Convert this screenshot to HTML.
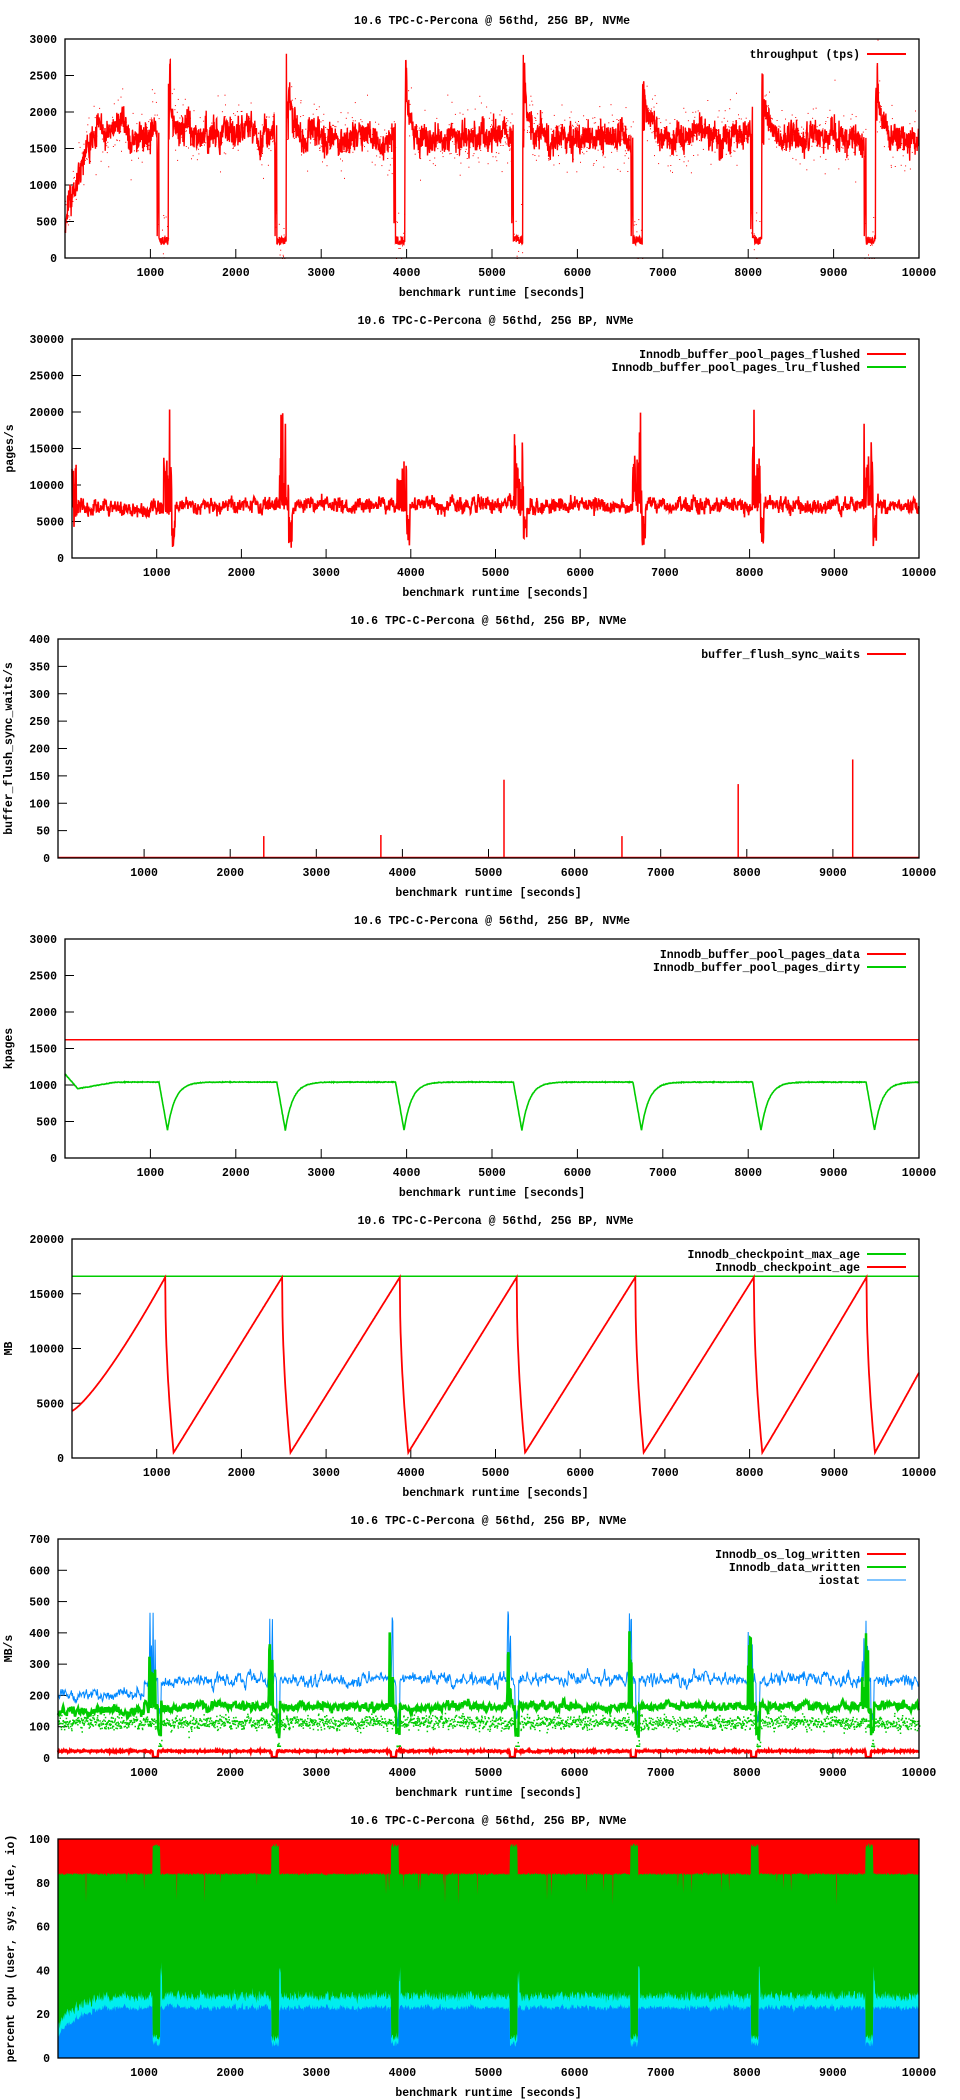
<!DOCTYPE html>
<html><head><meta charset="utf-8"><style>
html,body{margin:0;padding:0;background:#fff;width:960px;height:2100px;overflow:hidden}
svg{display:block}
text{font-family:"Liberation Mono",monospace;font-weight:bold;font-size:11.5px;fill:#000}
</style></head><body>
<svg id="s" width="960" height="2100" xmlns="http://www.w3.org/2000/svg"></svg>
<script>
var seed=12345;function R(){seed|=0;seed=seed+0x6D2B79F5|0;var t=Math.imul(seed^seed>>>15,1|seed);t=t+Math.imul(t^t>>>7,61|t)^t;return((t^t>>>14)>>>0)/4294967296;}
function G(){return (R()+R()+R()-1.5)*0.8;}
var E=[1100,2480,3870,5250,6650,8050,9380];
function ev(t){for(var i=0;i<E.length;i++){var d=t-E[i];if(d>-300&&d<400)return d;}return null;}
var out='';var RIGHT=919;
function chart(k,L,ymax,step,ylabel,ylx){
 var oy=300*k,T=oy+39,B=oy+258;
 var X=function(t){return L+t/10000*(RIGHT-L)},Y=function(v){return B-v/ymax*(B-T)};
 var o='';
 o+='<text x="'+((L+RIGHT)/2)+'" y="'+(oy+24)+'" text-anchor="middle">10.6 TPC-C-Percona @ 56thd, 25G BP, NVMe</text>';
 for(var v=0;v<=ymax+1e-9;v+=step){var y=Y(v);o+='<text x="'+(L-8)+'" y="'+(y+4)+'" text-anchor="end">'+v+'</text>';if(v>0&&v<ymax)o+='<line x1="'+L+'" y1="'+y+'" x2="'+(L+9)+'" y2="'+y+'" stroke="#000"/>';}
 for(var t=1000;t<=10000;t+=1000){var x=X(t);o+='<text x="'+x+'" y="'+(B+18)+'" text-anchor="middle">'+t+'</text>';if(t<10000)o+='<line x1="'+x+'" y1="'+B+'" x2="'+x+'" y2="'+(B-9)+'" stroke="#000"/>';}
 o+='<text x="'+((L+RIGHT)/2)+'" y="'+(oy+296)+'" text-anchor="middle">benchmark runtime [seconds]</text>';
 if(ylabel)o+='<text transform="translate('+ylx+','+((T+B)/2)+') rotate(-90)" text-anchor="middle">'+ylabel+'</text>';
 return {X:X,Y:Y,T:T,B:B,L:L,frame:'<rect x="'+L+'" y="'+T+'" width="'+(RIGHT-L)+'" height="'+(B-T)+'" fill="none" stroke="#000" stroke-width="1.3"/>',o:o};
}
function legend(c,items){var s='';items.forEach(function(it,i){var y=c.T+15+i*13;s+='<text x="860" y="'+(y+4)+'" text-anchor="end">'+it[0]+'</text><line x1="867" y1="'+y+'" x2="906" y2="'+y+'" stroke="'+it[1]+'" stroke-width="'+it[2]+'"/>';});return s;}
function pl(pts,col,w){return '<polyline fill="none" stroke="'+col+'" stroke-width="'+w+'" points="'+pts.join(' ')+'"/>';}
function P(x,y){return x.toFixed(1)+','+y.toFixed(1);}
var cl=function(v,a,b){return Math.max(a,Math.min(b,v))};
// chart 1
(function(){var c=chart(0,65,3000,500,null);var p=[],dots='';var lv=0;
 for(var t=0;t<=10000;t+=3){var d=ev(t),v;
  if(t<400)v=300+1550*Math.pow(t/400,0.7);else if(t<1000)v=1850-300*(t-400)/600;else v=1680;
  lv=lv*0.93+G()*80;v+=lv+G()*220;
  if(d!==null){if(d>=-20&&d<0)v=v*(1+d/20)+300;else if(d>=0&&d<110)v=180+R()*120;else if(d>=110&&d<135)v=1500+R()*1400;else if(d>=135&&d<260)v+=500*Math.exp(-(d-135)/50);}
  v=cl(v,0,2990);p.push(P(c.X(t),c.Y(v)));
  if(R()<0.35){var dv=v+G()*500;dots+='<rect x="'+c.X(t+R()*3).toFixed(1)+'" y="'+c.Y(cl(dv,0,3000)).toFixed(1)+'" width="1" height="1" fill="#f00"/>';}}
 out+=c.o+pl(p,'#f00',1.4)+dots+legend(c,[['throughput (tps)','#f00',2]])+c.frame;})();
// chart 2
(function(){var c=chart(1,72,30000,5000,'pages/s',13);var p=[];var lv=0;
 for(var t=0;t<=10000;t+=4){var d=ev(t),v=7200+(t<1000?-400:0);lv=lv*0.85+G()*500;v+=lv+G()*1100;
  if(d!==null){if(d>=-30&&d<80&&R()<0.5)v=9000+R()*(R()<0.2?12000:5000);else if(d>=80&&d<120)v=1000+R()*5000;}
  if(t<60)v=4000+R()*10000;v=cl(v,0,29999);p.push(P(c.X(t),c.Y(v)));}
 out+=c.o+pl(p,'#f00',1.6)+legend(c,[['Innodb_buffer_pool_pages_flushed','#f00',2],['Innodb_buffer_pool_pages_lru_flushed','#0c0',2]])+c.frame;})();
// chart 3
(function(){var c=chart(2,58,400,50,'buffer_flush_sync_waits/s',12);var s='';
 [[2390,40],[3750,42],[5180,143],[6550,40],[7900,135],[9230,180]].forEach(function(a){var x=c.X(a[0]);s+='<line x1="'+x+'" y1="'+c.B+'" x2="'+x+'" y2="'+c.Y(a[1])+'" stroke="#f00" stroke-width="1.5"/>';});
 s+='<line x1="'+c.L+'" y1="'+(c.B-0.5)+'" x2="'+RIGHT+'" y2="'+(c.B-0.5)+'" stroke="#f00" stroke-width="1.5"/>';
 out+=c.o+s+legend(c,[['buffer_flush_sync_waits','#f00',2]])+c.frame;})();
// chart 4
(function(){var c=chart(3,65,3000,500,'kpages',12);var p=[];
 for(var t=0;t<=10000;t+=5){var v;if(t<600)v=t<150?1150-200*t/150:950+90*(t-150)/450;else v=1040;
  for(var i=0;i<E.length;i++){var d=t-E[i];if(d>=0&&d<100)v=1040-660*(d/100);else if(d>=100&&d<800)v=Math.min(v,1040-660*Math.exp(-(d-100)/90));}
  v+=G()*6;p.push(P(c.X(t),c.Y(v)));}
 var y=c.Y(1620);out+=c.o+'<line x1="'+c.L+'" y1="'+y+'" x2="'+RIGHT+'" y2="'+y+'" stroke="#f00" stroke-width="1.5"/>'+pl(p,'#0c0',1.6)+legend(c,[['Innodb_buffer_pool_pages_data','#f00',2],['Innodb_buffer_pool_pages_dirty','#0c0',2]])+c.frame;})();
// chart 5
(function(){var c=chart(4,72,20000,5000,'MB',12);var p=[];
 for(var t=0;t<=10000;t+=5){var v;
  if(t<E[0])v=4300+12200*Math.pow(t/E[0],1.25);else{var i=E.length-1;while(t<E[i])i--;var d=t-E[i];
   if(d<100)v=16500-16000*Math.pow(d/100,0.5);else{var sp=i+1<E.length?(E[i+1]-E[i]-100):1140;v=500+16000*(d-100)/sp;}}
  p.push(P(c.X(t),c.Y(cl(v,0,20000))));}
 var y=c.Y(16600);out+=c.o+'<line x1="'+c.L+'" y1="'+y+'" x2="'+RIGHT+'" y2="'+y+'" stroke="#0c0" stroke-width="1.5"/>'+pl(p,'#f00',1.8)+legend(c,[['Innodb_checkpoint_max_age','#0c0',2],['Innodb_checkpoint_age','#f00',2]])+c.frame;})();
// chart 6
(function(){var c=chart(5,58,700,100,'MB/s',12);var pb=[],pg=[],pr=[],dots='';var lb=0,lg=0;
 for(var t=0;t<=10000;t+=6){var d=ev(t);var b=(t<1000?200:240)+(t<2000?(t/2000)*10:10);lb=lb*0.7+G()*18;b+=lb+G()*12;var g=(t<1000?150:165);lg=lg*0.7+G()*12;g+=lg+G()*10;var r=22+G()*4;var gd=115+G()*25;
  if(d!==null){if(d>=-40&&d<30){if(R()<0.5){b=300+R()*170;g=200+R()*220;}}else if(d>=60&&d<100){b=100+R()*60;g=60+R()*40;gd=40;}if(d>=0&&d<60)r=3;}
  pb.push(P(c.X(t),c.Y(b)));pg.push(P(c.X(t),c.Y(g)));pr.push(P(c.X(t),c.Y(r)));
  dots+='<rect x="'+c.X(t).toFixed(1)+'" y="'+c.Y(gd).toFixed(1)+'" width="1.5" height="1.5" fill="#0c0"/>';if(R()<0.5)dots+='<rect x="'+c.X(t+3).toFixed(1)+'" y="'+c.Y(gd+G()*20).toFixed(1)+'" width="1.5" height="1.5" fill="#0c0"/>';}
 out+=c.o+pl(pb,'#08f',1)+dots+pl(pg,'#0c0',2.5)+pl(pr,'#f00',2.5)+legend(c,[['Innodb_os_log_written','#f00',2],['Innodb_data_written','#0c0',2],['iostat','#08f',1]])+c.frame;})();
// chart 7
(function(){var c=chart(6,58,100,20,'percent cpu (user, sys, idle, io)',14);var ts=[],B=[],C=[],Gg=[];var lb=0;
 for(var t=0;t<=10000;t+=5){var d=ev(t);var b=t<500?8+15*Math.pow(t/500,0.5):23;lb=lb*0.6+G()*1.2;b+=lb+G()*1;var cc=b+3.5+R()*3.5;var g=84+G()*0.8;
  if(d!==null){if(d>=0&&d<90){b=5+R()*3;cc=b+2+R()*2;g=96+R()*2;}else if(d>=90&&d<110){cc=b+10+R()*10;}}
  if(R()<0.02)g-=R()*15;
  ts.push(c.X(t));B.push(c.Y(b));C.push(c.Y(cc));Gg.push(c.Y(g));}
 function area(arr,col){var s=P(ts[0],c.B);for(var i=0;i<ts.length;i++)s+=' '+P(ts[i],arr[i]);s+=' '+P(ts[ts.length-1],c.B);return '<polygon points="'+s+'" fill="'+col+'"/>';}
 out+=c.o+'<rect x="'+c.L+'" y="'+c.T+'" width="'+(RIGHT-c.L)+'" height="'+(c.B-c.T)+'" fill="#f00"/>'+area(Gg,'#0b0')+area(C,'#0ee')+area(B,'#08f')+c.frame;})();
document.getElementById('s').innerHTML=out;
</script>
</body></html>
